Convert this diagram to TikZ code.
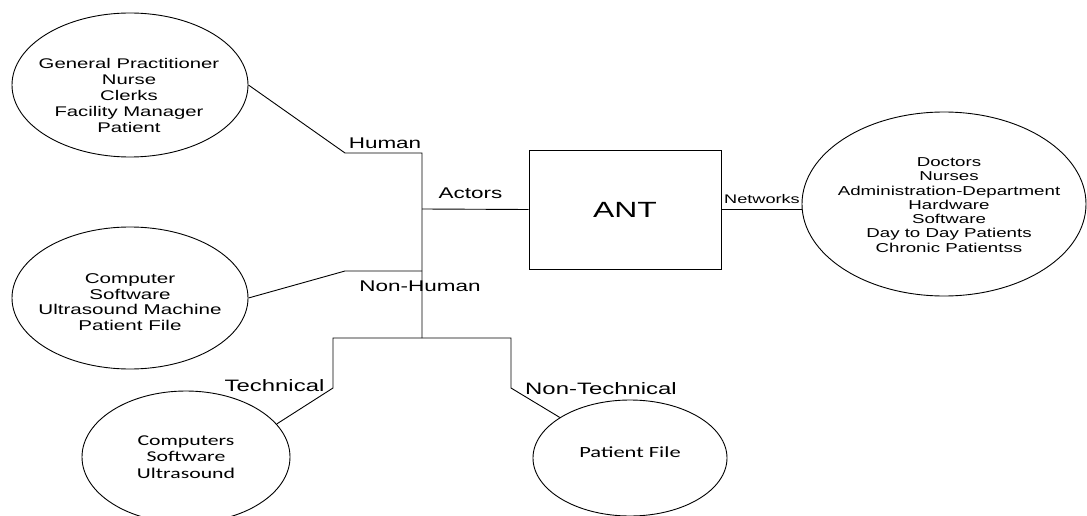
\documentclass[tikz,border=0pt]{standalone}
\usepackage{fontspec}
\setmainfont{Liberation Sans}[FakeStretch=1.45]
\newfontfamily\califont{Carlito}[FakeStretch=1.45]
\usetikzlibrary{shapes.geometric,positioning,calc}

\newcommand{\fsz}[2]{\fontsize{#1}{#2}\selectfont}

\begin{document}
\begin{tikzpicture}[x=1pt, y=-1pt, line width=0.9pt,
    bubble/.style={draw, ellipse, inner sep=0pt},
    listtext/.style={align=center, inner sep=0pt},
    tag/.style={inner sep=0pt}]
    \useasboundingbox (0,0) rectangle (1087,516);

    % Human actors
    \node[bubble, minimum width=236pt, minimum height=144pt] (gp) at (130,85) {};
    \node[listtext, font=\fsz{14}{16}] (gptext) at (129,95) {General Practitioner\\Nurse\\Clerks\\Facility Manager\\Patient};

    % Non-human actors
    \node[bubble, minimum width=236pt, minimum height=142pt] (comp) at (130,298) {};
    \node[listtext, font=\fsz{14.2}{15.5}] (comptext) at (130,302) {Computer\\Software\\Ultrasound Machine\\Patient File};

    % ANT box and networks
    \node[draw, minimum width=192pt, minimum height=119pt, font=\fsz{22}{26}] (ant) at (625,209.5) {ANT};
    \node[bubble, minimum width=284pt, minimum height=184pt] (net) at (944,204) {};
    \node[listtext, font=\fsz{12.9}{14.3}] (nettext) at (949,205) {Doctors\\Nurses\\Administration-Department\\Hardware\\Software\\Day to Day Patients\\Chronic Patientss};

    % Technical / non-technical
    \node[bubble, minimum width=208pt, minimum height=132pt] (tech) at (186,457) {};
    \node[listtext, font=\califont\fsz{15}{16.5}] (techtext) at (186,457) {Computers\\Software\\Ultrasound};
    \node[bubble, minimum width=194pt, minimum height=116pt] (nontech) at (630,458) {};
    \node[listtext, font=\califont\fsz{15.5}{17}] (nontechtext) at (630,452) {Patient File};

    % Labels
    \node[tag, font=\fsz{15.5}{18}] (human) at (385,143.5) {Human};
    \node[tag, font=\fsz{15.5}{18}] (actors) at (470.5,193.5) {Actors};
    \node[tag, font=\fsz{12.5}{15}] (networks) at (762,199.5) {Networks};
    \node[tag, font=\fsz{15.5}{18}] (nonhuman) at (420,286) {Non-Human};
    \node[tag, font=\fsz{16.5}{19}] (technical) at (274.5,386) {Technical};
    \node[tag, font=\fsz{16.5}{19}] (nontechnical) at (601,388.5) {Non-Technical};

    % Bends
    \coordinate (hum) at (345,153);
    \coordinate (humr) at (422,153);
    \coordinate (act) at (422,209);
    \coordinate (nh) at (345,271);
    \coordinate (nhr) at (422,271);
    \coordinate (split) at (422,338);
    \coordinate (techtop) at (333,338);
    \coordinate (techbend) at (333,388);
    \coordinate (ntechtop) at (511,338);
    \coordinate (ntechbend) at (511,388);

    % Connections
    \draw (gp.east) -- (hum) -- (humr) -- (split);
    \draw (comp.east) -- (nh) -- (nhr);
    \draw (act) -- (ant.west);
    \draw (ant.east) -- (ant.east -| net.west);
    \draw (tech.20) -- (techbend) -- (techtop) -- (ntechtop) -- (ntechbend) -- (nontech.150);
\end{tikzpicture}
\end{document}
